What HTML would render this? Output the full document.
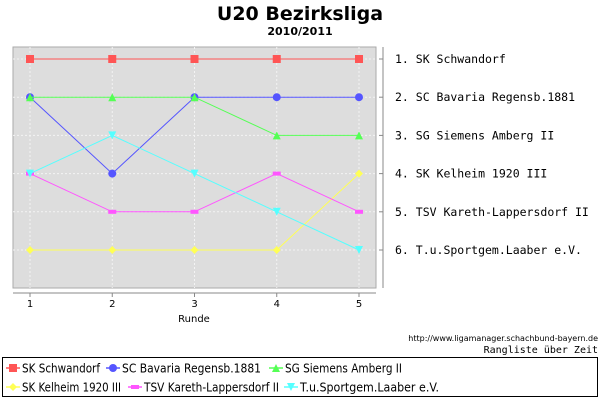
<!DOCTYPE html>
<html><head><meta charset="utf-8"><style>
body{margin:0;background:#fff;}
svg text{font-family:"DejaVu Sans","Liberation Sans",sans-serif;}
</style></head><body>
<svg width="600" height="400" xmlns="http://www.w3.org/2000/svg">
<text x="300" y="20" text-anchor="middle" font-size="19" font-weight="bold">U20 Bezirksliga</text>
<text x="300" y="35" text-anchor="middle" font-size="11" font-weight="bold">2010/2011</text>
<rect x="13" y="47" width="363" height="241" fill="#dddddd" stroke="#aaaaaa"/>
<g id="grid"></g>
<line x1="13" y1="293" x2="376" y2="293" stroke="#888"/>
<line x1="383" y1="47" x2="383" y2="288" stroke="#888"/>
<g id="ticks"></g>
<g id="series"></g>
<text x="194" y="322" text-anchor="middle" font-size="10">Runde</text>
<text x="598" y="341" text-anchor="end" font-size="8">http://www.ligamanager.schachbund-bayern.de</text>
<text x="598" y="353" text-anchor="end" font-size="10" style="font-family:'DejaVu Sans Mono',monospace">Rangliste über Zeit</text>
<rect x="2.5" y="357.5" width="595" height="39" fill="none" stroke="#000"/>
<g id="legend"></g>
</svg>
<script>
const rounds=[1,2,3,4,5];
const teams=["SK Schwandorf","SC Bavaria Regensb.1881","SG Siemens Amberg II","SK Kelheim 1920 III","TSV Kareth-Lappersdorf II","T.u.Sportgem.Laaber e.V."];
const rankLabels=["1. SK Schwandorf","2. SC Bavaria Regensb.1881","3. SG Siemens Amberg II","4. SK Kelheim 1920 III","5. TSV Kareth-Lappersdorf II","6. T.u.Sportgem.Laaber e.V."];
const schwandorf=[1,1,1,1,1];
const bavaria=[2,4,2,2,2];
const siemens=[2,2,2,3,3];
const kelheim=[6,6,6,6,4];
const kareth=[4,5,5,4,5];
const laaber=[4,3,4,5,6];
const colors=["#ff5555","#5555ff","#55ff55","#ffff55","#ff55ff","#55ffff"];
const shapes=["square","circle","up","diamond","bar","down"];
const NS="http://www.w3.org/2000/svg";
const xs=r=>30+(r-1)*82.25;
const ys=k=>59+(k-1)*38.2;
function mk(tag,attrs,parent){const e=document.createElementNS(NS,tag);for(const k in attrs)e.setAttribute(k,attrs[k]);parent.appendChild(e);return e;}
const grid=document.getElementById('grid'),ticks=document.getElementById('ticks'),ser=document.getElementById('series'),leg=document.getElementById('legend');
rounds.forEach(r=>{
 const l=mk('line',{x1:xs(r),y1:47,x2:xs(r),y2:288,stroke:'#f4f4f4','stroke-dasharray':'2,2'},grid);
 
 
 const t=mk('line',{x1:xs(r),y1:293,x2:xs(r),y2:297,stroke:'#888'},ticks);
 
 
 const tx=mk('text',{x:xs(r),y:307,'text-anchor':'middle','font-size':10},ticks);tx.textContent=r;
 
 
});
rankLabels.forEach((s,i)=>{
 const y=ys(i+1);
 const l=mk('line',{x1:13,y1:y,x2:376,y2:y,stroke:'#f4f4f4','stroke-dasharray':'2,2'},grid);
 
 
 const t=mk('line',{x1:379,y1:y,x2:383,y2:y,stroke:'#888'},ticks);
 
 
 const tx=mk('text',{x:395,y:y+4,'font-size':11.5,style:"font-family:'DejaVu Sans Mono',monospace"},ticks);tx.textContent=s;
 
 
});
function marker(shape,x,y,c,p){
 let e;
 if(shape==='square')e=mk('rect',{x:x-4,y:y-4,width:8,height:8,fill:c},p);
 else if(shape==='circle')e=mk('circle',{cx:x,cy:y,r:4,fill:c},p);
 else if(shape==='up')e=mk('polygon',{points:`${x},${y-4} ${x+4},${y+4} ${x-4},${y+4}`,fill:c},p);
 else if(shape==='down')e=mk('polygon',{points:`${x-4},${y-4} ${x+4},${y-4} ${x},${y+4}`,fill:c},p);
 else if(shape==='diamond')e=mk('polygon',{points:`${x},${y-4} ${x+4},${y} ${x},${y+4} ${x-4},${y}`,fill:c},p);
 else e=mk('rect',{x:x-4,y:y-2,width:8,height:4,fill:c},p);
 return e;
}
[schwandorf,bavaria,siemens,kelheim,kareth,laaber].forEach((vals,i)=>{
 const g=mk('g',{},ser);
 
 
 mk('polyline',{points:vals.map((v,j)=>xs(rounds[j])+','+ys(v)).join(' '),fill:'none',stroke:colors[i],'stroke-width':1},g);
 vals.forEach((v,j)=>{const m=marker(shapes[i],xs(rounds[j]),ys(v),colors[i],g);
  
  });
});
const lx=[6,106,269,6,128,284],ly=[368,368,368,387,387,387],tw=[78,139,117,99,135,139];
teams.forEach((t,i)=>{
 const g=mk('g',{},leg);
 
 
 mk('line',{x1:lx[i],y1:ly[i],x2:lx[i]+14,y2:ly[i],stroke:colors[i],'stroke-width':1.5},g);
 marker(shapes[i],lx[i]+7,ly[i],colors[i],g);
 const tx=mk('text',{x:lx[i]+16,y:ly[i]+4.5,'font-size':12.5,textLength:tw[i],lengthAdjust:'spacingAndGlyphs'},g);tx.textContent=t;
});
</script>
</body></html>
